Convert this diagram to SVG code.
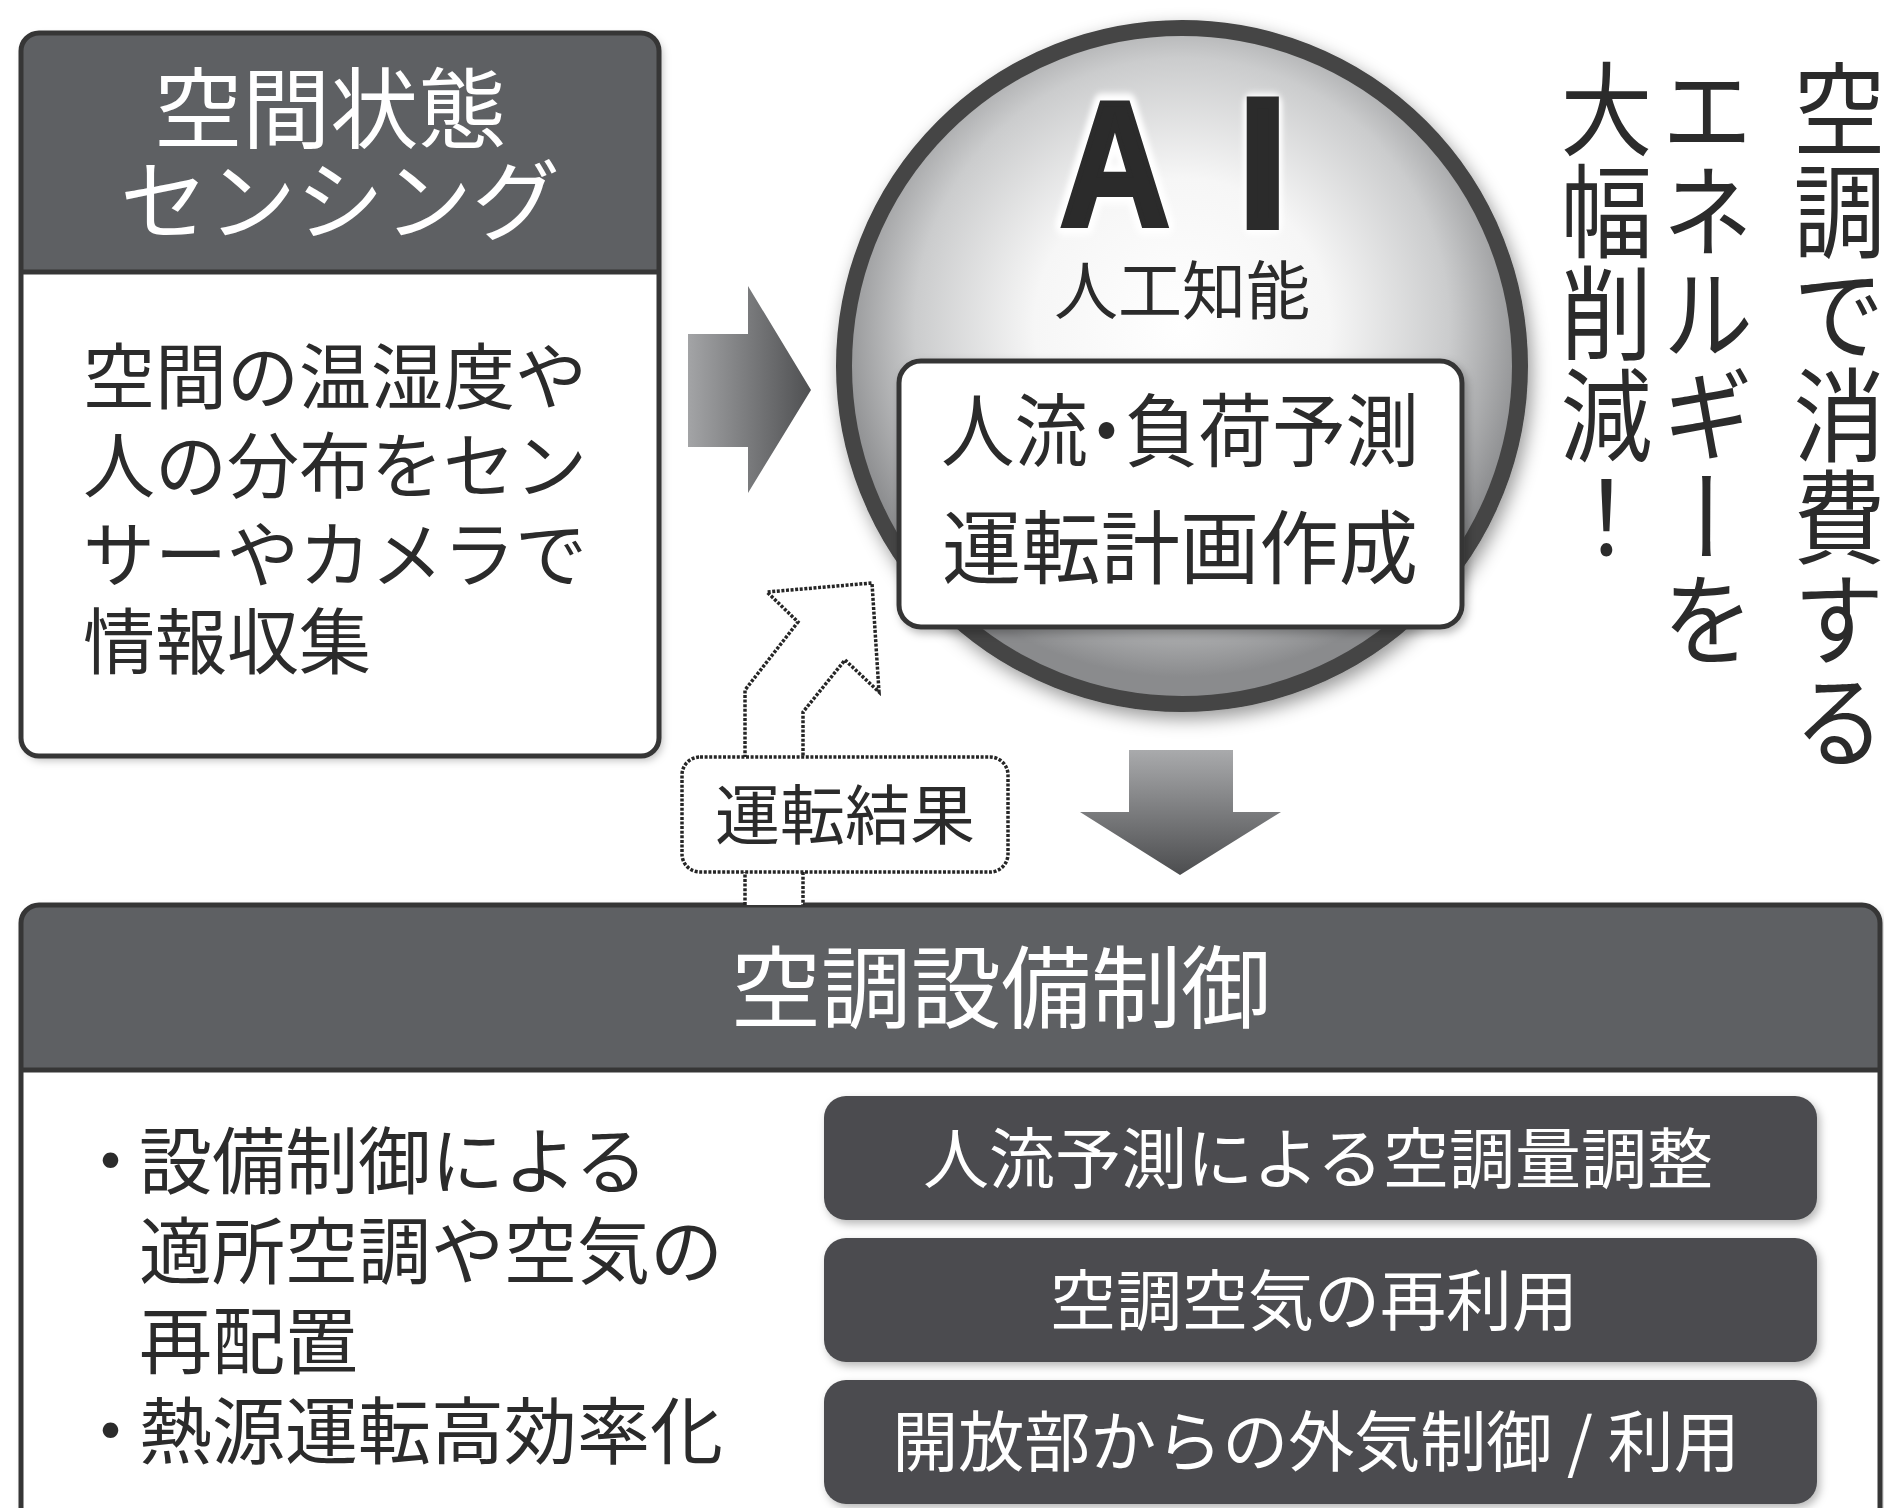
<svg xmlns="http://www.w3.org/2000/svg" width="1884" height="1508" viewBox="0 0 1884 1508">
<style>
  .jp { font-family: "Noto Sans CJK JP", "Noto Sans CJK SC", sans-serif; }
  .ink { fill: #2b2b2b; }
  .wt { fill: #ffffff; }
  .frame { fill: none; stroke: #363636; stroke-width: 5; }
  .hdr { fill: #5e6063; }
  .pill { fill: #4b4c4f; }
  .dash { fill: #ffffff; stroke: #262626; stroke-width: 3.5; stroke-dasharray: 3 1.6; }
  .vert { writing-mode: vertical-rl; }
</style>
<defs>
  <radialGradient id="ballGrad" cx="50%" cy="44%" r="52%">
    <stop offset="0" stop-color="#ffffff"/>
    <stop offset="0.42" stop-color="#f6f6f6"/>
    <stop offset="0.76" stop-color="#cbcccd"/>
    <stop offset="1" stop-color="#8a8b8d"/>
  </radialGradient>
  <linearGradient id="rightGrad" x1="688" y1="0" x2="811" y2="0" gradientUnits="userSpaceOnUse">
    <stop offset="0" stop-color="#a3a4a6"/>
    <stop offset="1" stop-color="#4f5052"/>
  </linearGradient>
  <linearGradient id="downGrad" x1="0" y1="750" x2="0" y2="875" gradientUnits="userSpaceOnUse">
    <stop offset="0" stop-color="#a9aaac"/>
    <stop offset="1" stop-color="#4c4d4f"/>
  </linearGradient>
  <filter id="shadow" x="-10%" y="-10%" width="125%" height="125%">
    <feDropShadow dx="3" dy="4" stdDeviation="4" flood-color="#000" flood-opacity="0.28"/>
  </filter>
  <filter id="ballShadow" x="-15%" y="-15%" width="130%" height="130%">
    <feDropShadow dx="4" dy="7" stdDeviation="9" flood-color="#000" flood-opacity="0.4"/>
  </filter>
  <filter id="halo" x="-20%" y="-20%" width="140%" height="140%">
    <feGaussianBlur stdDeviation="3"/>
  </filter>
  <clipPath id="leftClip"><rect x="21" y="33" width="638" height="723" rx="18"/></clipPath>
  <clipPath id="bottomClip"><rect x="21" y="905" width="1859" height="640" rx="18"/></clipPath>
</defs>

<rect width="1884" height="1508" fill="#ffffff"/>

<!-- Sensing node -->
<g id="node-sensing">
  <g filter="url(#shadow)">
    <rect x="21" y="33" width="638" height="723" rx="18" fill="#ffffff"/>
  </g>
  <rect class="hdr" x="21" y="33" width="638" height="239" clip-path="url(#leftClip)"/>
  <line x1="21" y1="272" x2="659" y2="272" stroke="#363636" stroke-width="5"/>
  <rect class="frame" x="21" y="33" width="638" height="723" rx="18"/>
  <text class="jp wt" font-size="88" text-anchor="middle">
    <tspan x="340" y="141">空間状態</tspan>
    <tspan x="340" y="233">センシング</tspan>
  </text>
  <text class="jp ink" font-size="72">
    <tspan x="83" y="403">空間の温湿度や</tspan>
    <tspan x="83" y="492">人の分布をセン</tspan>
    <tspan x="83" y="581">サーやカメラで</tspan>
    <tspan x="83" y="668">情報収集</tspan>
  </text>
</g>

<!-- AI node -->
<g id="node-ai">
  <circle cx="1182" cy="366" r="338" fill="url(#ballGrad)" stroke="#454545" stroke-width="16" filter="url(#ballShadow)"/>
  <g transform="translate(1182,0) scale(0.86,1) translate(-1182,0)" font-family="'Liberation Sans', Arial, sans-serif" font-weight="bold" font-size="176" text-anchor="middle">
    <g filter="url(#halo)" fill="#ffffff" stroke="#ffffff" stroke-width="20" stroke-linejoin="round">
      <text x="1104" y="225">A</text>
      <text x="1276" y="225">I</text>
    </g>
    <g fill="#2b2b2b" stroke="#2b2b2b" stroke-linejoin="miter">
      <text x="1104" y="225" stroke-width="6">A</text>
      <text x="1276" y="224" stroke-width="12">I</text>
    </g>
  </g>
  <text class="jp ink" x="1182" y="314" font-size="64" text-anchor="middle">人工知能</text>
  <rect x="899" y="361" width="563" height="266" rx="22" fill="#ffffff" stroke="#363636" stroke-width="5" filter="url(#shadow)"/>
  <text class="jp ink" x="1180" y="460" font-size="80" text-anchor="middle" textLength="478" lengthAdjust="spacingAndGlyphs" style="font-feature-settings:'palt'">人流・負荷予測</text>
  <text class="jp ink" x="1180" y="577" font-size="80" text-anchor="middle" textLength="476" lengthAdjust="spacingAndGlyphs">運転計画作成</text>
</g>

<!-- Headline (vertical) -->
<g id="node-headline" class="jp ink" font-size="102" transform="translate(1718,0) scale(0.9,1) translate(-1718,0)">
  <text class="vert" x="1853" y="58">空調で消費する</text>
  <text class="vert" x="1706" y="58">エネルギーを</text>
  <text class="vert" x="1594" y="58">大幅削減！</text>
</g>

<!-- Control node -->
<g id="node-control">
  <g filter="url(#shadow)">
    <rect x="21" y="905" width="1859" height="640" rx="18" fill="#ffffff"/>
  </g>
  <rect class="hdr" x="21" y="905" width="1859" height="165" clip-path="url(#bottomClip)"/>
  <line x1="21" y1="1070" x2="1880" y2="1070" stroke="#363636" stroke-width="5"/>
  <rect class="frame" x="21" y="905" width="1859" height="640" rx="18"/>
  <text class="jp wt" x="731" y="1021" font-size="90">空調設備制御</text>
  <text class="jp ink" font-size="73">
    <tspan x="74" y="1188">・</tspan><tspan x="139" y="1188">設備制御による</tspan>
    <tspan x="139" y="1278">適所空調や空気の</tspan>
    <tspan x="139" y="1368">再配置</tspan>
    <tspan x="74" y="1458">・</tspan><tspan x="139" y="1458">熱源運転高効率化</tspan>
  </text>
  <g id="pill-1">
    <rect class="pill" x="824" y="1096" width="993" height="124" rx="22" filter="url(#shadow)"/>
    <text class="jp wt" x="1318" y="1183" font-size="66" text-anchor="middle">人流予測による空調量調整</text>
  </g>
  <g id="pill-2">
    <rect class="pill" x="824" y="1238" width="993" height="124" rx="22" filter="url(#shadow)"/>
    <text class="jp wt" x="1314" y="1325" font-size="66" text-anchor="middle">空調空気の再利用</text>
  </g>
  <g id="pill-3">
    <rect class="pill" x="824" y="1380" width="993" height="124" rx="22" filter="url(#shadow)"/>
    <text class="jp wt" x="1316" y="1466" font-size="66" text-anchor="middle">開放部からの外気制御 / 利用</text>
  </g>
</g>

<!-- Connectors -->
<g id="connectors">
  <polygon id="arrow-sensing-ai" points="688,334 748,334 748,286 811,390 748,493 748,447 688,447" fill="url(#rightGrad)"/>
  <polygon id="arrow-ai-control" points="1129,750 1233,750 1233,812 1281,812 1180,875 1080,812 1129,812" fill="url(#downGrad)"/>
  <polyline id="arrow-feedback" class="dash" points="745,905 745,690 798,622 767,592 872,583 879,692 845,660 803,712 803,905"/>
  <g id="label-feedback">
    <rect class="dash" x="682" y="757" width="326" height="115" rx="18"/>
    <text class="jp ink" x="845" y="839" font-size="65" text-anchor="middle">運転結果</text>
  </g>
</g>
</svg>
